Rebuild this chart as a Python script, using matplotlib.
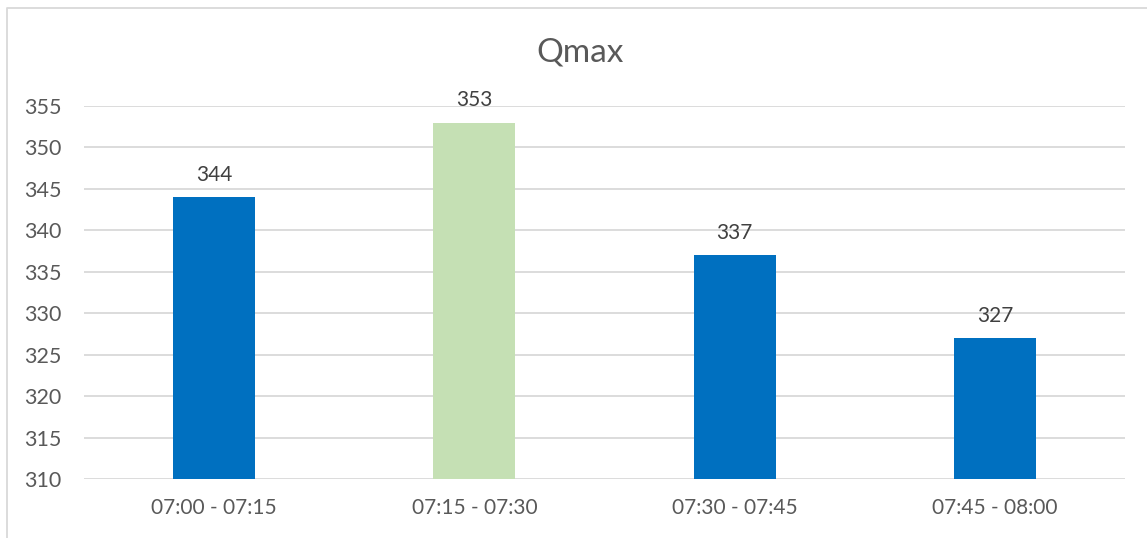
import matplotlib.pyplot as plt
from matplotlib.lines import Line2D

# data
categories = ['07:00 - 07:15', '07:15 - 07:30', '07:30 - 07:45', '07:45 - 08:00']
qmax = [344, 353, 337, 327]
bar_colors = ['#0070C0', '#C5E0B4', '#0070C0', '#0070C0']
y_ticks = [310, 315, 320, 325, 330, 335, 340, 345, 350, 355]

text_col = '#595959'
plt.rcParams['font.family'] = ['Lato', 'DejaVu Sans']

fig = plt.figure(figsize=(11.47, 5.38), dpi=100)
ax = fig.add_axes([84 / 1147, 59 / 538, 1041 / 1147, 373 / 538])

x = range(len(categories))
bars = ax.bar(x, qmax, width=0.315, color=bar_colors, zorder=3, bottom=0)
ax.set_xlim(-0.5, len(categories) - 0.5)
ax.set_ylim(310, 355)
ax.set_yticks(y_ticks)
ax.set_xticks(list(x))
ax.set_xticklabels(categories)
ax.tick_params(axis='both', length=0, colors=text_col)
ax.tick_params(axis='x', pad=14, labelsize=15)
ax.tick_params(axis='y', pad=16, labelsize=15.5)
ax.grid(axis='y', color='#D9D9D9', linewidth=1.3, zorder=0)
for s in ax.spines.values():
    s.set_visible(False)

for xi, v in zip(x, qmax):
    ax.annotate(str(v), (xi, v), xytext=(0, 9), textcoords='offset points',
                ha='center', va='bottom', fontsize=15, color='#404040')

fig.text(580 / 1147, 1 - 52 / 538, 'Qmax', ha='center', va='center',
         fontsize=24, color=text_col)

# chart border (top + left)
fig.add_artist(Line2D([7 / 1147, 7 / 1147, 1.0], [0.0, 1 - 7.5 / 538, 1 - 7.5 / 538],
                      transform=fig.transFigure, color='#D9D9D9', linewidth=1.3))

fig.savefig('out.png', dpi=100)
